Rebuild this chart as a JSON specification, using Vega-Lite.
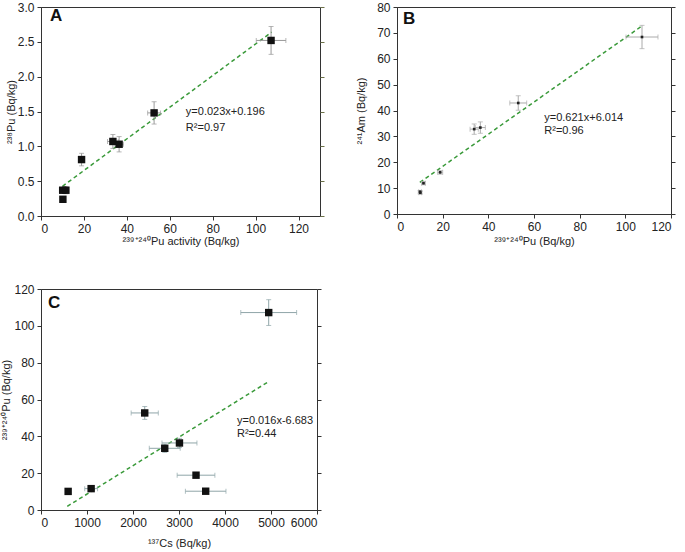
{
  "$schema": "https://vega.github.io/schema/vega-lite/v6.json",
  "padding": {"left": 0, "top": 0, "right": 0, "bottom": 0},
  "background": "white",
  "config": {
    "font": "Liberation Sans",
    "view": {"stroke": "#333", "strokeWidth": 1},
    "axis": {"grid": false, "labelFont": "Liberation Sans", "labelFontSize": 12, "labelColor": "#222", "titleFont": "Liberation Sans", "titleFontSize": 11, "titleFontWeight": "normal", "titleColor": "#222", "domainColor": "#333", "tickColor": "#333", "tickSize": 4, "labelPadding": 3, "labelOverlap": false}
  },
  "datasets": {
    "pa": [
      {"x": 10.1, "y": 0.37, "xlo": 9.3, "xhi": 10.9, "ylo": 0.33, "yhi": 0.41},
      {"x": 11.6, "y": 0.37, "xlo": 10.8, "xhi": 12.4, "ylo": 0.32, "yhi": 0.42},
      {"x": 10.2, "y": 0.24, "xlo": 9.6, "xhi": 10.8, "ylo": 0.21, "yhi": 0.27},
      {"x": 18.9, "y": 0.81, "xlo": 17.9, "xhi": 19.9, "ylo": 0.72, "yhi": 0.90},
      {"x": 33.5, "y": 1.07, "xlo": 31.0, "xhi": 36.0, "ylo": 0.97, "yhi": 1.17},
      {"x": 36.4, "y": 1.03, "xlo": 34.4, "xhi": 38.4, "ylo": 0.92, "yhi": 1.14},
      {"x": 52.7, "y": 1.48, "xlo": 49.7, "xhi": 55.7, "ylo": 1.32, "yhi": 1.64},
      {"x": 107.2, "y": 2.52, "xlo": 100.3, "xhi": 114.1, "ylo": 2.32, "yhi": 2.72}
    ],
    "pb": [
      {"x": 10.1, "y": 8.6, "xlo": 9.5, "xhi": 10.7, "ylo": 8.1, "yhi": 9.1},
      {"x": 10.2, "y": 8.2, "xlo": 9.6, "xhi": 10.8, "ylo": 7.7, "yhi": 8.7},
      {"x": 11.6, "y": 11.9, "xlo": 10.8, "xhi": 12.4, "ylo": 11.3, "yhi": 12.5},
      {"x": 18.9, "y": 16.1, "xlo": 17.8, "xhi": 20.0, "ylo": 15.4, "yhi": 16.8},
      {"x": 33.8, "y": 32.8, "xlo": 32.0, "xhi": 35.6, "ylo": 30.8, "yhi": 34.8},
      {"x": 36.5, "y": 33.4, "xlo": 34.3, "xhi": 38.7, "ylo": 31.2, "yhi": 35.6},
      {"x": 53.1, "y": 42.9, "xlo": 49.4, "xhi": 56.8, "ylo": 40.1, "yhi": 45.7},
      {"x": 107.3, "y": 68.4, "xlo": 100.3, "xhi": 114.3, "ylo": 63.9, "yhi": 72.9}
    ],
    "pc": [
      {"x": 590, "y": 10.1, "xlo": 540, "xhi": 640, "ylo": 9.5, "yhi": 10.7},
      {"x": 1090, "y": 11.6, "xlo": 950, "xhi": 1230, "ylo": 10.6, "yhi": 12.6},
      {"x": 2255, "y": 52.7, "xlo": 1960, "xhi": 2550, "ylo": 49.2, "yhi": 56.2},
      {"x": 2690, "y": 33.5, "xlo": 2354, "xhi": 3026, "ylo": 31.3, "yhi": 35.7},
      {"x": 3010, "y": 36.4, "xlo": 2630, "xhi": 3390, "ylo": 33.9, "yhi": 38.9},
      {"x": 3370, "y": 18.9, "xlo": 2960, "xhi": 3780, "ylo": 17.7, "yhi": 20.1},
      {"x": 3580, "y": 10.2, "xlo": 3139, "xhi": 4021, "ylo": 9.4, "yhi": 11.0},
      {"x": 4950, "y": 107.2, "xlo": 4343, "xhi": 5557, "ylo": 100.2, "yhi": 114.2}
    ],
    "la": [{"x": 10.0, "y": 0.426}, {"x": 107.5, "y": 2.64}],
    "lb": [{"x": 10.0, "y": 12.2}, {"x": 107.5, "y": 72.8}],
    "lc": [{"x": 571, "y": 2.0}, {"x": 4966, "y": 70.0}],
    "ta": [
      {"x": 4.2, "y": 2.87, "t": "A", "k": "letter"},
      {"x": 67.5, "y": 1.49, "t": "y=0.023x+0.196", "k": "eq"},
      {"x": 67.5, "y": 1.26, "t": "R²=0.97", "k": "eq"}
    ],
    "tb": [
      {"x": 2.6, "y": 75.5, "t": "B", "k": "letter"},
      {"x": 64.5, "y": 37.1, "t": "y=0.621x+6.014", "k": "eq"},
      {"x": 64.5, "y": 32.0, "t": "R²=0.96", "k": "eq"}
    ],
    "tc": [
      {"x": 150, "y": 112.6, "t": "C", "k": "letter"},
      {"x": 4260, "y": 48.5, "t": "y=0.016x-6.683", "k": "eq"},
      {"x": 4260, "y": 41.2, "t": "R²=0.44", "k": "eq"}
    ]
  },
  "vconcat": [
    {
      "hconcat": [
        {
          "width": 279, "height": 209,
          "resolve": {"scale": {"y": "independent"}, "axis": {"y": "independent"}},
          "layer": [
            {
              "layer": [
                {
                  "data": {"name": "la"},
                  "mark": {"type": "line", "color": "#3a9a3a", "strokeDash": [4, 3], "strokeWidth": 1.5},
                  "encoding": {
                    "x": {"field": "x", "type": "quantitative", "title": "²³⁹⁺²⁴⁰Pu activity (Bq/kg)", "scale": {"domain": [0, 130], "nice": false}, "axis": {"values": [0, 20, 40, 60, 80, 100, 120], "titlePadding": 1}},
                    "y": {"field": "y", "type": "quantitative", "title": "²³⁸Pu (Bq/kg)", "scale": {"domain": [0, 3], "nice": false}, "axis": {"values": [0, 0.5, 1, 1.5, 2, 2.5, 3], "format": ".1f", "titlePadding": 1}}
                  }
                },
                {
                  "data": {"name": "pa"},
                  "mark": {"type": "errorbar", "ticks": true, "color": "#999"},
                  "encoding": {
                    "x": {"field": "x", "type": "quantitative", "title": "²³⁹⁺²⁴⁰Pu activity (Bq/kg)"},
                    "y": {"field": "ylo", "type": "quantitative", "title": "²³⁸Pu (Bq/kg)", "axis": {"values": [0, 0.5, 1, 1.5, 2, 2.5, 3], "format": ".1f", "titlePadding": 1}},
                    "y2": {"field": "yhi"}
                  }
                },
                {
                  "data": {"name": "pa"},
                  "mark": {"type": "errorbar", "ticks": true, "color": "#999"},
                  "encoding": {
                    "y": {"field": "y", "type": "quantitative", "title": "²³⁸Pu (Bq/kg)", "axis": {"values": [0, 0.5, 1, 1.5, 2, 2.5, 3], "format": ".1f", "titlePadding": 1}},
                    "x": {"field": "xlo", "type": "quantitative", "title": "²³⁹⁺²⁴⁰Pu activity (Bq/kg)"},
                    "x2": {"field": "xhi"}
                  }
                },
                {
                  "data": {"name": "pa"},
                  "mark": {"type": "point", "shape": "square", "filled": true, "color": "#111", "size": 55, "opacity": 1},
                  "encoding": {
                    "x": {"field": "x", "type": "quantitative", "title": "²³⁹⁺²⁴⁰Pu activity (Bq/kg)"},
                    "y": {"field": "y", "type": "quantitative", "title": "²³⁸Pu (Bq/kg)", "axis": {"values": [0, 0.5, 1, 1.5, 2, 2.5, 3], "format": ".1f", "titlePadding": 1}}
                  }
                },
                {
                  "data": {"name": "ta"},
                  "transform": [{"filter": "datum.k === 'eq'"}],
                  "mark": {"type": "text", "align": "left", "baseline": "middle", "color": "#222", "fontSize": 11},
                  "encoding": {
                    "x": {"field": "x", "type": "quantitative", "title": "²³⁹⁺²⁴⁰Pu activity (Bq/kg)"},
                    "y": {"field": "y", "type": "quantitative", "title": "²³⁸Pu (Bq/kg)", "axis": {"values": [0, 0.5, 1, 1.5, 2, 2.5, 3], "format": ".1f", "titlePadding": 1}},
                    "text": {"field": "t"}
                  }
                },
                {
                  "data": {"name": "ta"},
                  "transform": [{"filter": "datum.k === 'letter'"}],
                  "mark": {"type": "text", "align": "left", "baseline": "middle", "color": "#111", "fontSize": 17, "fontWeight": "bold"},
                  "encoding": {
                    "x": {"field": "x", "type": "quantitative", "title": "²³⁹⁺²⁴⁰Pu activity (Bq/kg)"},
                    "y": {"field": "y", "type": "quantitative", "title": "²³⁸Pu (Bq/kg)", "axis": {"values": [0, 0.5, 1, 1.5, 2, 2.5, 3], "format": ".1f", "titlePadding": 1}},
                    "text": {"field": "t"}
                  }
                }
              ]
            },
            {
              "data": {"name": "la"},
              "mark": {"type": "line", "opacity": 0},
              "encoding": {
                "x": {"field": "x", "type": "quantitative", "title": "²³⁹⁺²⁴⁰Pu activity (Bq/kg)"},
                "y": {"field": "y", "type": "quantitative", "scale": {"domain": [0, 3], "nice": false}, "axis": {"orient": "right", "labels": false, "title": null, "values": [0, 0.5, 1, 1.5, 2, 2.5, 3], "domain": false, "tickColor": "#6b7048"}}
              }
            }
          ]
        },
        {
          "width": 274, "height": 207,
          "resolve": {"scale": {"y": "independent"}, "axis": {"y": "independent"}},
          "layer": [
            {
              "layer": [
                {
                  "data": {"name": "lb"},
                  "mark": {"type": "line", "color": "#3a9a3a", "strokeDash": [4, 3], "strokeWidth": 1.5},
                  "encoding": {
                    "x": {"field": "x", "type": "quantitative", "title": "²³⁹⁺²⁴⁰Pu (Bq/kg)", "scale": {"domain": [0, 120], "nice": false}, "axis": {"values": [0, 20, 40, 60, 80, 100, 120], "titlePadding": 3}},
                    "y": {"field": "y", "type": "quantitative", "title": "²⁴¹Am (Bq/kg)", "scale": {"domain": [0, 80], "nice": false}, "axis": {"values": [0, 10, 20, 30, 40, 50, 60, 70, 80], "titlePadding": 10}}
                  }
                },
                {
                  "data": {"name": "pb"},
                  "mark": {"type": "errorbar", "ticks": true, "color": "#aaa"},
                  "encoding": {
                    "x": {"field": "x", "type": "quantitative", "title": "²³⁹⁺²⁴⁰Pu (Bq/kg)"},
                    "y": {"field": "ylo", "type": "quantitative", "title": "²⁴¹Am (Bq/kg)", "axis": {"values": [0, 10, 20, 30, 40, 50, 60, 70, 80], "titlePadding": 10}},
                    "y2": {"field": "yhi"}
                  }
                },
                {
                  "data": {"name": "pb"},
                  "mark": {"type": "errorbar", "ticks": true, "color": "#aaa"},
                  "encoding": {
                    "y": {"field": "y", "type": "quantitative", "title": "²⁴¹Am (Bq/kg)", "axis": {"values": [0, 10, 20, 30, 40, 50, 60, 70, 80], "titlePadding": 10}},
                    "x": {"field": "xlo", "type": "quantitative", "title": "²³⁹⁺²⁴⁰Pu (Bq/kg)"},
                    "x2": {"field": "xhi"}
                  }
                },
                {
                  "data": {"name": "pb"},
                  "mark": {"type": "point", "shape": "square", "filled": true, "color": "#222", "size": 7, "opacity": 1},
                  "encoding": {
                    "x": {"field": "x", "type": "quantitative", "title": "²³⁹⁺²⁴⁰Pu (Bq/kg)"},
                    "y": {"field": "y", "type": "quantitative", "title": "²⁴¹Am (Bq/kg)", "axis": {"values": [0, 10, 20, 30, 40, 50, 60, 70, 80], "titlePadding": 10}}
                  }
                },
                {
                  "data": {"name": "tb"},
                  "transform": [{"filter": "datum.k === 'eq'"}],
                  "mark": {"type": "text", "align": "left", "baseline": "middle", "color": "#222", "fontSize": 11},
                  "encoding": {
                    "x": {"field": "x", "type": "quantitative", "title": "²³⁹⁺²⁴⁰Pu (Bq/kg)"},
                    "y": {"field": "y", "type": "quantitative", "title": "²⁴¹Am (Bq/kg)", "axis": {"values": [0, 10, 20, 30, 40, 50, 60, 70, 80], "titlePadding": 10}},
                    "text": {"field": "t"}
                  }
                },
                {
                  "data": {"name": "tb"},
                  "transform": [{"filter": "datum.k === 'letter'"}],
                  "mark": {"type": "text", "align": "left", "baseline": "middle", "color": "#111", "fontSize": 17, "fontWeight": "bold"},
                  "encoding": {
                    "x": {"field": "x", "type": "quantitative", "title": "²³⁹⁺²⁴⁰Pu (Bq/kg)"},
                    "y": {"field": "y", "type": "quantitative", "title": "²⁴¹Am (Bq/kg)", "axis": {"values": [0, 10, 20, 30, 40, 50, 60, 70, 80], "titlePadding": 10}},
                    "text": {"field": "t"}
                  }
                }
              ]
            },
            {
              "data": {"name": "lb"},
              "mark": {"type": "line", "opacity": 0},
              "encoding": {
                "x": {"field": "x", "type": "quantitative", "title": "²³⁹⁺²⁴⁰Pu (Bq/kg)"},
                "y": {"field": "y", "type": "quantitative", "scale": {"domain": [0, 80], "nice": false}, "axis": {"orient": "right", "labels": false, "title": null, "values": [0, 10, 20, 30, 40, 50, 60, 70, 80], "domain": false}}
              }
            }
          ]
        }
      ],
      "spacing": 30
    },
    {
      "width": 276, "height": 221,
      "resolve": {"scale": {"y": "independent"}, "axis": {"y": "independent"}},
      "layer": [
        {
          "layer": [
            {
              "data": {"name": "lc"},
              "mark": {"type": "line", "color": "#3a9a3a", "strokeDash": [4, 3], "strokeWidth": 1.5},
              "encoding": {
                "x": {"field": "x", "type": "quantitative", "title": "¹³⁷Cs (Bq/kg)", "scale": {"domain": [0, 6000], "nice": false}, "axis": {"values": [0, 1000, 2000, 3000, 4000, 5000, 6000], "format": "d", "titlePadding": 9}},
                "y": {"field": "y", "type": "quantitative", "title": "²³⁹⁺²⁴⁰Pu (Bq/kg)", "scale": {"domain": [0, 120], "nice": false}, "axis": {"values": [0, 20, 40, 60, 80, 100, 120], "titlePadding": 2}}
              }
            },
            {
              "data": {"name": "pc"},
              "mark": {"type": "errorbar", "ticks": true, "color": "#8fa5a8"},
              "encoding": {
                "x": {"field": "x", "type": "quantitative", "title": "¹³⁷Cs (Bq/kg)"},
                "y": {"field": "ylo", "type": "quantitative", "title": "²³⁹⁺²⁴⁰Pu (Bq/kg)", "axis": {"values": [0, 20, 40, 60, 80, 100, 120], "titlePadding": 2}},
                "y2": {"field": "yhi"}
              }
            },
            {
              "data": {"name": "pc"},
              "mark": {"type": "errorbar", "ticks": true, "color": "#8fa5a8"},
              "encoding": {
                "y": {"field": "y", "type": "quantitative", "title": "²³⁹⁺²⁴⁰Pu (Bq/kg)", "axis": {"values": [0, 20, 40, 60, 80, 100, 120], "titlePadding": 2}},
                "x": {"field": "xlo", "type": "quantitative", "title": "¹³⁷Cs (Bq/kg)"},
                "x2": {"field": "xhi"}
              }
            },
            {
              "data": {"name": "pc"},
              "mark": {"type": "point", "shape": "square", "filled": true, "color": "#111", "size": 55, "opacity": 1},
              "encoding": {
                "x": {"field": "x", "type": "quantitative", "title": "¹³⁷Cs (Bq/kg)"},
                "y": {"field": "y", "type": "quantitative", "title": "²³⁹⁺²⁴⁰Pu (Bq/kg)", "axis": {"values": [0, 20, 40, 60, 80, 100, 120], "titlePadding": 2}}
              }
            },
            {
              "data": {"name": "tc"},
              "transform": [{"filter": "datum.k === 'eq'"}],
              "mark": {"type": "text", "align": "left", "baseline": "middle", "color": "#222", "fontSize": 11},
              "encoding": {
                "x": {"field": "x", "type": "quantitative", "title": "¹³⁷Cs (Bq/kg)"},
                "y": {"field": "y", "type": "quantitative", "title": "²³⁹⁺²⁴⁰Pu (Bq/kg)", "axis": {"values": [0, 20, 40, 60, 80, 100, 120], "titlePadding": 2}},
                "text": {"field": "t"}
              }
            },
            {
              "data": {"name": "tc"},
              "transform": [{"filter": "datum.k === 'letter'"}],
              "mark": {"type": "text", "align": "left", "baseline": "middle", "color": "#111", "fontSize": 17, "fontWeight": "bold"},
              "encoding": {
                "x": {"field": "x", "type": "quantitative", "title": "¹³⁷Cs (Bq/kg)"},
                "y": {"field": "y", "type": "quantitative", "title": "²³⁹⁺²⁴⁰Pu (Bq/kg)", "axis": {"values": [0, 20, 40, 60, 80, 100, 120], "titlePadding": 2}},
                "text": {"field": "t"}
              }
            }
          ]
        },
        {
          "data": {"name": "lc"},
          "mark": {"type": "line", "opacity": 0},
          "encoding": {
            "x": {"field": "x", "type": "quantitative", "title": "¹³⁷Cs (Bq/kg)"},
            "y": {"field": "y", "type": "quantitative", "scale": {"domain": [0, 120], "nice": false}, "axis": {"orient": "right", "labels": false, "title": null, "values": [0, 20, 40, 60, 80, 100, 120], "domain": false}}
          }
        }
      ]
    }
  ],
  "spacing": 35
}
